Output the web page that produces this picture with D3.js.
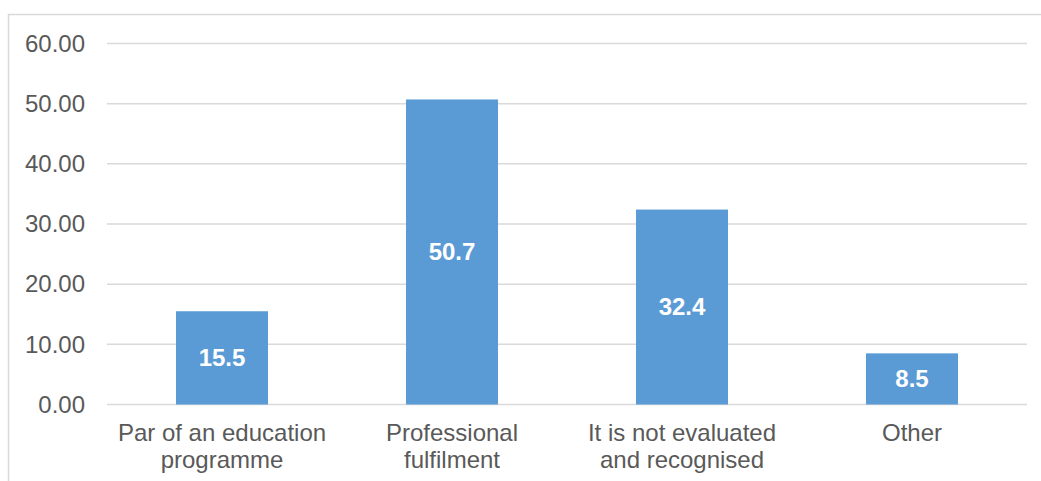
<!DOCTYPE html>
<html>
<head>
<meta charset="utf-8">
<script src="https://cdn.jsdelivr.net/npm/d3@7"></script>
<style>
  body { margin: 0; background: #fff; }
  text { font-family: "Liberation Sans", Arial, sans-serif; }
</style>
</head>
<body>
<svg id="chart" width="1041" height="481"></svg>
<script>
// chart data
const categories = [
    'Par of an education\nprogramme',
    'Professional\nfulfilment',
    'It is not evaluated\nand recognised',
    'Other'
];
const values = [15.5, 50.7, 32.4, 8.5];
const yTicks = [0, 10, 20, 30, 40, 50, 60];

const svg = d3.select('#chart');
const margin = {top: 43.5, right: 14, bottom: 76.5, left: 107};
const width = 1041, height = 481;

// outer frame (right and bottom edges fall outside the picture)
svg.append('rect')
    .attr('x', 8.5).attr('y', 14.5)
    .attr('width', 1100).attr('height', 600)
    .attr('fill', 'none')
    .attr('stroke', '#d9d9d9')
    .attr('stroke-width', 1.5);

let xScale = d3.scaleBand()
    .domain(categories)
    .range([margin.left, width - margin.right])
    .paddingInner(0.6)
    .paddingOuter(0.3);

let yScale = d3.scaleLinear()
    .domain([0, 60])
    .range([height - margin.bottom, margin.top]);

// gridlines
svg.append('g')
    .selectAll('line')
    .data(yTicks)
    .enter()
    .append('line')
    .attr('x1', margin.left)
    .attr('x2', width - margin.right)
    .attr('y1', (d) => yScale(d))
    .attr('y2', (d) => yScale(d))
    .attr('stroke', '#d9d9d9')
    .attr('stroke-width', 1.5);

// y axis labels
let yAxis = d3.axisLeft(yScale)
    .tickValues(yTicks)
    .tickFormat(d3.format('.2f'))
    .tickSize(0)
    .tickPadding(22);

let gY = svg.append('g')
    .attr('transform', `translate(${margin.left},0)`)
    .call(yAxis);
gY.select('.domain').remove();
gY.selectAll('text')
    .attr('fill', '#595959')
    .style('font-size', '24px')
    .style('font-family', '"Liberation Sans", Arial, sans-serif');

// bars
svg.append('g')
    .selectAll('rect')
    .data(values)
    .enter()
    .append('rect')
    .attr('x', (d, i) => xScale(categories[i]))
    .attr('width', xScale.bandwidth())
    .attr('y', (d) => yScale(d))
    .attr('height', (d) => yScale(0) - yScale(d))
    .attr('fill', '#5b9bd5');

// value labels, centred in each bar
svg.append('g')
    .selectAll('text')
    .data(values)
    .enter()
    .append('text')
    .attr('x', (d, i) => xScale(categories[i]) + xScale.bandwidth() / 2)
    .attr('y', (d) => (yScale(d) + yScale(0)) / 2)
    .attr('dy', '0.35em')
    .attr('text-anchor', 'middle')
    .attr('fill', '#fff')
    .style('font-size', '24px')
    .style('font-weight', 'bold')
    .text((d) => d.toFixed(1));

// category labels, wrapped onto two lines
let gX = svg.append('g');
categories.forEach((c, i) => {
    let t = gX.append('text')
        .attr('text-anchor', 'middle')
        .attr('fill', '#595959')
        .style('font-size', '24px')
        .attr('x', xScale(c) + xScale.bandwidth() / 2)
        .attr('y', 441);
    c.split('\n').forEach((line, j) => {
        t.append('tspan')
            .attr('x', xScale(c) + xScale.bandwidth() / 2)
            .attr('dy', j == 0 ? 0 : 26.5)
            .text(line);
    });
});
</script>
</body>
</html>
